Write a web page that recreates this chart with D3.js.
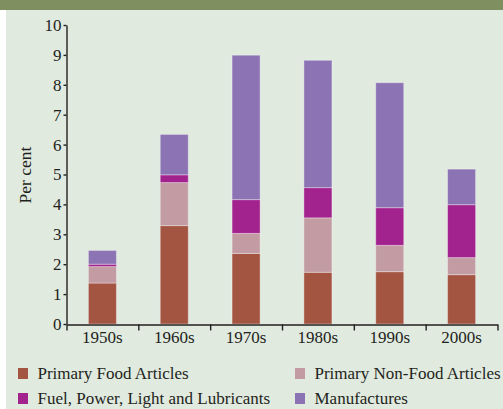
<!doctype html>
<head>
  <script src="https://cdnjs.cloudflare.com/ajax/libs/d3/7.8.5/d3.min.js"></script>
  <style>
    body { margin: 0; background: #fff; }
    svg { display: block; }
    text { font-family: "Liberation Serif", "DejaVu Serif", serif; fill: #231f20; }
    .axis path, .axis line { stroke: #231f20; stroke-width: 1.4px; }
  </style>
</head>
<body>
  <svg class="chart" width="503" height="409"></svg>
  <script type="text/javascript">
    // decades and stacked shares (per cent)
    var decades = ["1950s", "1960s", "1970s", "1980s", "1990s", "2000s"]
    var food    = [1.37, 3.29, 2.36, 1.73, 1.75, 1.65]
    var nonFood = [0.55, 1.44, 0.67, 1.82, 0.88, 0.57]
    var fuel    = [0.08, 0.26, 1.13, 1.01, 1.26, 1.77]
    var manuf   = [0.46, 1.35, 4.83, 4.26, 4.18, 1.19]
    var seriesNames = ["Primary Food Articles", "Primary Non-Food Articles",
                       "Fuel, Power, Light and Lubricants", "Manufactures"]
    var colors = ["#a35542", "#c29ba3", "#a3238e", "#8c74b4"]
    var yTicks = [0, 1, 2, 3, 4, 5, 6, 7, 8, 9, 10]

    var rows = decades.map((d, i) => ({decade: d, s0: food[i], s1: nonFood[i], s2: fuel[i], s3: manuf[i]}))
    var stacked = d3.stack().keys(["s0", "s1", "s2", "s3"])(rows)

    var svg = d3.select("svg")
    svg.append("rect").attr("x", 6).attr("y", 0).attr("width", 497).attr("height", 409).attr("fill", "#e0eadf")
    svg.append("rect").attr("x", 0).attr("y", 0).attr("width", 503).attr("height", 10).attr("fill", "#7f8f5f")

    var x = d3.scaleBand().domain(decades).range([66.5, 497.5]).paddingInner(0.61).paddingOuter(0.305)
    var xEdge = d3.scaleLinear().domain([0, decades.length]).range([66.5, 497.5])
    var y = d3.scaleLinear().domain([0, 10]).range([324, 25])

    svg.selectAll("g.layer")
      .data(stacked)
      .enter()
      .append("g")
      .attr("class", "layer")
      .attr("fill", (d, i) => colors[i])
      .selectAll("rect")
      .data(d => d)
      .enter()
      .append("rect")
      .attr("x", d => x(d.data.decade))
      .attr("width", x.bandwidth())
      .attr("y", d => y(d[1]))
      .attr("height", d => y(d[0]) - y(d[1]))
      .style("stroke", "rgba(255,255,255,0.35)")
      .style("stroke-width", "1px")

    // y axis
    var yAxis = svg.append("g").attr("class", "axis")
      .attr("transform", "translate(66.5,0)")
      .call(d3.axisLeft(y).tickValues(yTicks).tickSize(3).tickSizeOuter(0).tickPadding(2))
    yAxis.selectAll("text").style("font-size", "17px").attr("fill", "#231f20")

    // x axis: boundary ticks and centred labels
    svg.append("g").attr("class", "axis")
      .attr("transform", "translate(0,324.5)")
      .call(d3.axisBottom(xEdge).tickValues(d3.range(decades.length + 1)).tickFormat("").tickSize(6).tickSizeOuter(0))
    svg.append("g")
      .selectAll("text")
      .data(decades)
      .enter()
      .append("text")
      .attr("x", d => x(d) + x.bandwidth() / 2)
      .attr("y", 343)
      .attr("text-anchor", "middle")
      .style("font-size", "17px")
      .text(d => d)

    svg.append("text")
      .attr("transform", "translate(31,175) rotate(-90)")
      .attr("text-anchor", "middle")
      .style("font-size", "17.5px")
      .text("Per cent")

    // legend
    var legendPos = [[18, 368], [295, 368], [18, 393], [295, 393]]
    var legend = svg.selectAll("g.legend")
      .data(seriesNames)
      .enter()
      .append("g")
      .attr("class", "legend")
      .attr("transform", (d, i) => "translate(" + legendPos[i][0] + "," + legendPos[i][1] + ")")
    legend.append("rect").attr("width", 10).attr("height", 11).attr("fill", (d, i) => colors[i])
    legend.append("text").attr("x", 19.5).attr("y", 11).style("font-size", "17px").text(d => d)
  </script>
</body>
</html>
